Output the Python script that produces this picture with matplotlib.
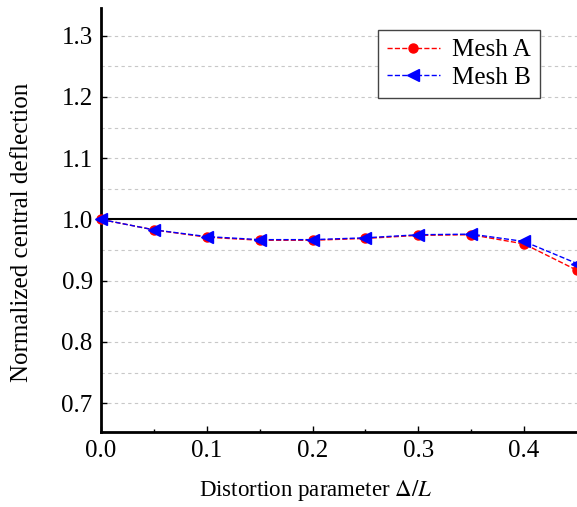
import numpy as np
import matplotlib.pyplot as plt

# Data
x = [0.0, 0.05, 0.1, 0.15, 0.2, 0.25, 0.3, 0.35, 0.4, 0.45]
mesh_a = [1.0, 0.983, 0.971, 0.966, 0.966, 0.969, 0.974, 0.975, 0.960, 0.917]
mesh_b = [1.0, 0.983, 0.972, 0.967, 0.967, 0.970, 0.975, 0.976, 0.964, 0.928]
xticks = [0.0, 0.1, 0.2, 0.3, 0.4]
yticks = [0.7, 0.8, 0.9, 1.0, 1.1, 1.2, 1.3]

plt.rcParams['font.family'] = ['Liberation Serif', 'DejaVu Serif']
plt.rcParams['mathtext.fontset'] = 'stix'

fig = plt.figure(figsize=(5.77, 5.07), dpi=100)
ax = fig.add_axes([0.175, 0.148, 0.825, 0.836])

for yg in np.arange(0.65, 1.36, 0.05):
    ax.axhline(yg, color='#c8c8c8', lw=0.8, ls=(0, (3, 3)), zorder=0)
ax.axhline(1.0, color='black', lw=1.5, zorder=1)

ax.plot(x, mesh_a, 'r--', marker='o', ms=6.5, lw=1, label='Mesh A', clip_on=False, zorder=3)
ax.plot(x, mesh_b, 'b--', marker='<', ms=8, lw=1, label='Mesh B', clip_on=False, zorder=4)

ax.set_xlim(0, 0.45)
ax.set_ylim(0.653, 1.345)
ax.set_xticks(xticks)
ax.set_xticks(np.arange(0.05, 0.45, 0.1), minor=True)
ax.set_yticks(yticks)
ax.set_xticklabels(['%.1f' % v for v in xticks])
ax.set_yticklabels(['%.1f' % v for v in yticks])
ax.tick_params(direction='in', labelsize=18, length=4, width=1, pad=6)
ax.tick_params(which='minor', direction='in', length=2.5, width=1)

for s in ['top', 'right']:
    ax.spines[s].set_visible(False)
for s in ['left', 'bottom']:
    ax.spines[s].set_linewidth(2)

ax.set_xlabel(r'Distortion parameter $\Delta/L$', fontsize=16.5)
ax.set_ylabel('Normalized central deflection', fontsize=18)
ax.xaxis.set_label_coords(0.45, -0.137)
ax.yaxis.set_label_coords(-0.166, 0.472)
ax.xaxis.label.set_va('center')
ax.yaxis.label.set_va('center')

leg = ax.legend(loc='upper right', bbox_to_anchor=(0.922, 0.948), fontsize=18,
                fancybox=False, edgecolor='#444444', framealpha=1, borderaxespad=0,
                handlelength=2.1, handletextpad=0.5, borderpad=0.35, labelspacing=0.2)
leg.get_frame().set_linewidth(1)

fig.savefig('out.png', dpi=100)
